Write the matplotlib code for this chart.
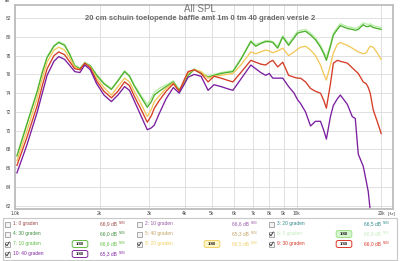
import matplotlib
matplotlib.use("Agg")
import matplotlib.pyplot as plt
from matplotlib.ticker import NullLocator, FixedLocator
from matplotlib.patches import Rectangle, FancyBboxPatch
from matplotlib.lines import Line2D

# ---------------- data ----------------
freqs = [1016, 1100, 1200, 1250, 1300, 1375, 1430, 1500, 1560, 1630, 1700, 1770, 1850, 1950,
         2070, 2200, 2320, 2450, 2550, 2650, 2800, 2950, 3050, 3125, 3250, 3440, 3650, 3830,
         4000, 4120, 4330, 4580, 4850, 5090, 5390, 5650, 5940, 6340, 6880, 7160, 7460, 7770,
         8000, 8230, 8570, 8930, 9370, 9800, 10080, 10330, 10760, 11210, 11670, 12160, 12500,
         12760, 13190, 13510, 13960, 14300, 15150, 15770, 16160, 16560, 17250, 17680, 17970,
         18260, 18720, 19330, 19970]

spl_0_light = [67.4, 70.7, 74.3, 76.3, 77.9, 79.1, 79.5, 79.2, 78.3, 77.0, 76.7, 77.3, 77.0, 76.0,
               75.1, 74.5, 75.4, 76.4, 75.9, 74.9, 73.8, 72.8, 73.5, 74.1, 74.5, 74.9, 75.3, 74.4,
               75.3, 76.0, 76.6, 76.2, 75.8, 76.0, 76.2, 76.3, 76.4, 77.7, 79.6, 79.2, 79.4, 79.6,
               79.6, 79.5, 79.0, 80.1, 79.3, 80.1, 80.6, 80.7, 80.8, 80.4, 79.9, 79.1, 78.4,
               77.8, 79.2, 80.4, 81.0, 81.4, 81.1, 81.0, 80.9, 81.0, 81.5, 81.4, 81.3,
               81.4, 81.2, 81.1, 81.0]
spl_10 = [67.3, 70.6, 74.2, 76.2, 77.8, 79.0, 79.4, 79.1, 78.2, 76.9, 76.6, 77.2, 76.9, 75.9,
          75.0, 74.4, 75.3, 76.3, 75.8, 74.8, 73.6, 72.5, 73.1, 73.8, 74.2, 74.7, 75.2, 74.3,
          75.2, 75.9, 76.5, 76.1, 75.7, 75.9, 76.1, 76.2, 76.3, 77.6, 79.5, 79.0, 79.3, 79.5,
          79.5, 79.4, 78.8, 80.0, 79.1, 79.9, 80.4, 80.5, 80.6, 80.2, 79.7, 78.9, 78.2,
          77.5, 79.0, 80.2, 80.8, 81.2, 80.9, 80.8, 80.7, 80.8, 81.3, 81.1, 81.1,
          81.2, 81.0, 80.9, 80.8]
spl_20 = [66.8, 69.9, 73.5, 75.6, 77.3, 78.6, 78.9, 78.6, 77.8, 76.8, 76.5, 77.2, 76.8, 75.6,
          74.6, 73.8, 74.7, 75.6, 75.2, 74.2, 72.9, 71.5, 72.3, 73.1, 73.7, 74.5, 75.1, 74.2,
          75.4, 76.2, 76.5, 76.3, 75.6, 75.8, 75.9, 76.0, 76.1, 77.0, 78.4, 78.2, 78.4, 78.6,
          78.5, 78.3, 78.5, 78.8, 78.0, 78.4, 78.7, 78.9, 79.0, 78.6, 78.0, 77.0, 76.0,
          75.4, 77.0, 78.3, 79.2, 79.4, 79.1, 78.8, 78.6, 78.4, 78.2, 78.3, 78.7,
          79.0, 78.9, 78.3, 77.6]
spl_30 = [66.3, 69.2, 72.7, 74.8, 76.6, 78.0, 78.4, 78.1, 77.4, 76.6, 76.5, 77.2, 76.7, 75.3,
          74.2, 73.5, 74.2, 75.2, 74.8, 73.7, 72.3, 70.9, 71.6, 72.4, 73.2, 74.2, 75.0, 74.2,
          75.5, 76.3, 76.5, 76.1, 75.2, 75.8, 75.6, 75.4, 75.2, 76.2, 77.5, 77.3, 77.1, 77.0,
          77.3, 77.5, 76.8, 77.3, 75.9, 75.7, 75.6, 75.6, 75.2, 74.5, 74.2, 74.0, 73.2,
          72.4, 75.0, 77.2, 77.5, 77.4, 77.2, 76.7, 76.4, 76.1, 75.2, 75.0, 74.6,
          74.0, 72.2, 71.0, 69.7]
spl_40 = [65.5, 68.4, 72.0, 74.0, 75.9, 77.4, 77.9, 77.6, 77.0, 76.3, 76.2, 77.0, 76.5, 75.0,
          73.8, 73.1, 73.8, 74.7, 74.3, 73.2, 71.6, 70.1, 70.3, 70.6, 71.8, 73.4, 74.6, 74.0,
          75.0, 75.7, 76.0, 75.8, 74.3, 74.9, 74.7, 74.5, 74.3, 75.5, 77.0, 76.6, 76.2, 75.9,
          76.1, 75.6, 75.6, 75.6, 74.7, 74.0, 73.3, 72.9, 72.0, 70.5, 71.0, 71.0, 70.0,
          69.1, 71.5, 72.7, 73.4, 73.8, 72.8, 71.5, 71.3, 67.5, 66.2, 64.6, 63.5,
          61.5, 59.0, 57.0, 55.0]

curve_series = [spl_0_light, spl_10, spl_20, spl_30, spl_40]
curve_colors = ['#b8eea8', '#4cb02c', '#f2c85a', '#d43c26', '#7a1fa0']

y_ticks = [62, 64, 66, 68, 70, 72, 74, 76, 78, 80, 82]
x_ticks = [1000, 2000, 3000, 4000, 5000, 6000, 7000, 8000, 9000, 10000, 20000]
x_tick_labels = ['1.0k', '2k', '3k', '4k', '5k', '6k', '7k', '8k', '9k', '10k', '20k']

legend_names = ["1: 0 graden", "2: 10 graden", "3: 20 graden", "4: 30 graden", "5: 40 graden",
                "6: 0 graden", "7: 10 graden", "8: 20 graden", "9: 30 graden", "10: 40 graden"]
legend_values = ["66,9", "66,6", "66,5", "66,0", "65,3", "66,9", "66,6", "66,5", "66,0", "65,3"]
legend_checked = [False, False, False, False, False, True, True, True, True, True]
legend_colors = ['#a04848', '#9858a8', '#2f8a8a', '#3f8f3f', '#c4a468',
                 '#c4ecbc', '#62bc44', '#f0d068', '#d83828', '#8028a0']

title1 = "All SPL"
title2 = "20 cm schuin toelopende baffle amt 1m 0 tm 40 graden versie 2"

# ---------------- figure ----------------
W, H = 400, 261
fig = plt.figure(figsize=(W / 100, H / 100), dpi=100)
fig.patch.set_facecolor('white')
plt.rcParams['font.family'] = ['Liberation Sans', 'DejaVu Sans']


def fx(x):
    return x / W


def fy(y):
    return 1 - y / H


L, R, T, B = 15, 393, 5, 209
ax = fig.add_axes([fx(L), fy(B), (R - L) / W, (B - T) / H])
ax.set_facecolor('white')
ax.set_xscale('log')
ax.set_xlim(1000, 22000)
ax.set_ylim(61.65, 83.4)

for s, c in zip(curve_series, curve_colors):
    ax.plot(freqs, s, color=c, lw=0.95, solid_joinstyle='round')

ax.xaxis.set_major_locator(FixedLocator(x_ticks))
ax.xaxis.set_minor_locator(NullLocator())
ax.set_xticklabels(x_tick_labels)
ax.set_yticks(y_ticks)
ax.set_yticklabels([str(v) for v in y_ticks])
ax.tick_params(axis='both', length=0, labelsize=3.4, colors='#444444')
ax.tick_params(axis='x', pad=1.5)
ax.tick_params(axis='y', pad=3.0)
ax.grid(True, color='#dadada', lw=0.6)
ax.set_axisbelow(True)
for sp in ax.spines.values():
    sp.set_color('#bdbdbd')
    sp.set_linewidth(1.3)

fig.text(fx(7), fy(1.5), 'dB', fontsize=3.2, color='#444444', ha='center', va='center')
fig.text(fx(388), fy(213.5), '[Hz]', fontsize=3.2, color='#444444', ha='left', va='center')

fig.text(0.5, fy(9.5), title1, fontsize=7, color='#7a7a7a', ha='center', va='center')
fig.text(0.5, fy(18.5), title2, fontsize=5.5, color='#6a6a6a', ha='center', va='center',
         fontweight='bold')

# ---------------- legend panel ----------------
fig.add_artist(Rectangle((fx(3), fy(260)), (394) / W, (42) / H, transform=fig.transFigure,
                         facecolor='white', edgecolor='#c8c8c8', lw=0.8))

row_y = [224, 234, 244, 254]
col_x = [0, 132, 264]
for i, name in enumerate(legend_names):
    r, cidx = i // 3, i % 3
    y = row_y[r]
    x0 = col_x[cidx]
    col = legend_colors[i]
    fig.add_artist(Rectangle((fx(x0 + 4.5), fy(y + 2.7)), 5.2 / W, 5.2 / H,
                             transform=fig.transFigure, facecolor='#f4f4f4',
                             edgecolor='#8a8a8a', lw=0.5))
    if legend_checked[i]:
        fig.add_artist(Line2D([fx(x0 + 5.5), fx(x0 + 7), fx(x0 + 9.2)],
                              [fy(y), fy(y + 1.8), fy(y - 2)],
                              transform=fig.transFigure, color='#303030', lw=0.6))
    fig.text(fx(x0 + 13), fy(y), name, fontsize=3.5, color=col, ha='left', va='center')
    fig.text(fx(x0 + 100), fy(y), legend_values[i] + " dB", fontsize=3.5, color=col,
             ha='left', va='center')
    fig.text(fx(x0 + 118.5), fy(y - 1.5), "NOM", fontsize=2.0, color=col,
             ha='left', va='center')
    if legend_checked[i]:
        face = '#d8f6d0' if i == 5 else 'white'
        edge = '#9ee08a' if i == 5 else col
        if i == 7:
            face = '#fff6c8'
        fig.add_artist(FancyBboxPatch((fx(x0 + 73), fy(y + 3)), 14 / W, 6 / H,
                                      boxstyle='round,pad=0.002,rounding_size=0.006',
                                      transform=fig.transFigure, facecolor=face,
                                      edgecolor=edge, lw=0.7))
        fig.text(fx(x0 + 80), fy(y), "1/48", fontsize=3.0, color='#202020', ha='center',
                 va='center', fontweight='bold')

fig.savefig('out.png', dpi=100, facecolor='white')
